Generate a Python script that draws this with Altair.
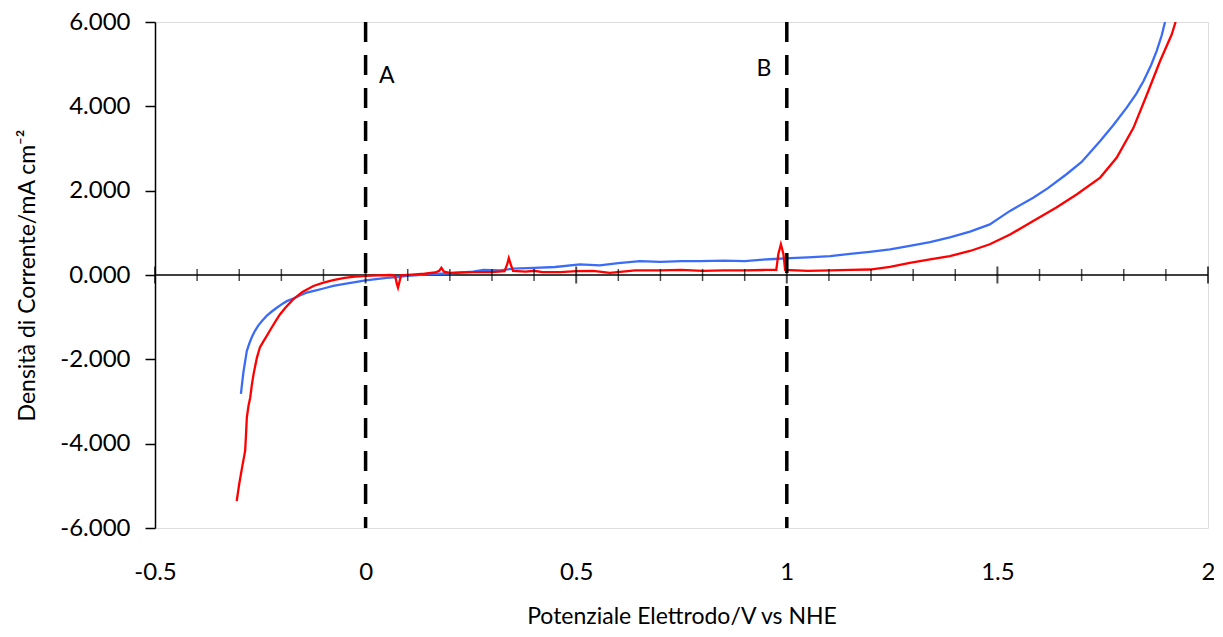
import altair as alt
import pandas as pd

# Blue curve (potential V vs NHE, current density mA cm-2)
blue_x = [-0.296, -0.293, -0.290, -0.286, -0.282, -0.276, -0.270, -0.263, -0.255, -0.245,
          -0.235, -0.222, -0.210, -0.197, -0.187, -0.170, -0.155, -0.140, -0.120, -0.100,
          -0.077, -0.050, -0.025, 0.000, 0.025, 0.050, 0.075, 0.098, 0.125, 0.150,
          0.175, 0.200, 0.230, 0.255, 0.280, 0.319, 0.350, 0.400, 0.450, 0.509,
          0.556, 0.600, 0.651, 0.700, 0.750, 0.794, 0.850, 0.900, 0.936, 0.970,
          1.008, 1.050, 1.103, 1.150, 1.197, 1.245, 1.292, 1.340, 1.387, 1.435,
          1.482, 1.506, 1.530, 1.585, 1.620, 1.664, 1.700, 1.744, 1.775, 1.807, 1.830,
          1.847, 1.865, 1.878, 1.890, 1.898]
blue_y = [-2.82, -2.55, -2.30, -2.05, -1.80, -1.62, -1.47, -1.33, -1.20, -1.08,
          -0.97, -0.86, -0.77, -0.68, -0.62, -0.55, -0.48, -0.42, -0.37, -0.32,
          -0.26, -0.21, -0.17, -0.13, -0.10, -0.07, -0.05, -0.02, 0.00, 0.02,
          0.03, 0.04, 0.06, 0.08, 0.12, 0.11, 0.15, 0.17, 0.19, 0.25,
          0.23, 0.28, 0.33, 0.31, 0.33, 0.33, 0.34, 0.33, 0.36, 0.38,
          0.40, 0.42, 0.45, 0.50, 0.55, 0.61, 0.69, 0.78, 0.89, 1.03,
          1.20, 1.36, 1.52, 1.83, 2.06, 2.39, 2.68, 3.18, 3.55, 3.97, 4.30,
          4.60, 4.98, 5.31, 5.68, 6.00]

# Red curve
red_x = [-0.306, -0.300, -0.293, -0.286, -0.284, -0.282, -0.278, -0.274, -0.270, -0.266,
         -0.262, -0.258, -0.254, -0.251, -0.243, -0.235, -0.225, -0.214, -0.203, -0.190,
         -0.172, -0.150, -0.124, -0.100, -0.077, -0.050, -0.025, 0.000, 0.030, 0.060,
         0.070, 0.074, 0.077, 0.080, 0.084, 0.110, 0.140, 0.165, 0.175, 0.180,
         0.186, 0.200, 0.230, 0.260, 0.300, 0.330, 0.336, 0.340, 0.345, 0.350,
         0.380, 0.400, 0.420, 0.462, 0.500, 0.540, 0.580, 0.610, 0.640, 0.700,
         0.750, 0.800, 0.850, 0.900, 0.950, 0.975, 0.980, 0.986, 0.992, 0.996,
         1.050, 1.103, 1.150, 1.197, 1.245, 1.292, 1.340, 1.387, 1.435, 1.482,
         1.530, 1.585, 1.640, 1.688, 1.744, 1.783, 1.823, 1.855, 1.886, 1.914, 1.923]
red_y = [-5.36, -4.95, -4.55, -4.17, -3.80, -3.38, -3.10, -2.91, -2.60, -2.35,
         -2.15, -1.96, -1.82, -1.72, -1.58, -1.45, -1.28, -1.10, -0.93, -0.77,
         -0.58, -0.40, -0.26, -0.18, -0.12, -0.07, -0.04, -0.02, -0.01, 0.00,
         -0.02, -0.20, -0.30, -0.18, -0.01, 0.01, 0.03, 0.06, 0.10, 0.17,
         0.08, 0.05, 0.06, 0.07, 0.07, 0.09, 0.25, 0.40, 0.24, 0.10,
         0.08, 0.10, 0.07, 0.07, 0.09, 0.10, 0.05, 0.08, 0.11, 0.11,
         0.12, 0.10, 0.11, 0.11, 0.12, 0.12, 0.50, 0.73, 0.50, 0.12,
         0.10, 0.11, 0.12, 0.13, 0.19, 0.29, 0.37, 0.45, 0.57, 0.73,
         0.96, 1.28, 1.60, 1.91, 2.31, 2.78, 3.49, 4.28, 5.07, 5.71, 6.00]

x_ticks_minor = [-0.4, -0.3, -0.2, -0.1, 0.1, 0.2, 0.3, 0.4, 0.6, 0.7, 0.8, 0.9,
                 1.1, 1.2, 1.3, 1.4, 1.6, 1.7, 1.8, 1.9]
x_ticks_major = [-0.5, 0.0, 0.5, 1.0, 1.5, 2.0]
y_ticks = [-6, -4, -2, 0, 2, 4, 6]
marker_x = [0.0, 1.0]
label_text = ["A", "B"]
label_x = [0.05, 0.946]
label_y = [4.72, 4.88]

FONT = "Lato"

rows = []
for i, (x, y) in enumerate(zip(blue_x, blue_y)):
    rows.append({"series": "blue", "x": x, "y": y, "i": i})
for i, (x, y) in enumerate(zip(red_x, red_y)):
    rows.append({"series": "red", "x": x, "y": y, "i": i})
df = pd.DataFrame(rows)

xscale = alt.Scale(domain=[-0.5, 2.0], nice=False, zero=False)
yscale = alt.Scale(domain=[-6, 6], nice=False, zero=False)

lines = alt.Chart(df).mark_line(strokeWidth=2.3, clip=True).encode(
    x=alt.X("x:Q", scale=xscale,
            axis=alt.Axis(values=x_ticks_major, domain=False, ticks=False, grid=False,
                          labelExpr="replace(replace(format(datum.value, '~g'), '\u2212', '-'), '−', '-')",
                          labelFont=FONT, labelFontSize=24, labelColor="black",
                          labelPadding=32, labelFlush=False,
                          title="Potenziale Elettrodo/V vs NHE", titleFont=FONT,
                          titleFontSize=23, titleFontWeight="normal", titleColor="black",
                          titlePadding=21)),
    y=alt.Y("y:Q", scale=yscale,
            axis=alt.Axis(values=y_ticks, domain=True, domainColor="black", domainWidth=1.5,
                          ticks=True, tickColor="black", tickSize=10, tickWidth=1.5,
                          grid=False,
                          labelExpr="replace(replace(format(datum.value, '.3f'), '\u2212', '-'), '−', '-')",
                          labelFont=FONT, labelFontSize=24, labelColor="black",
                          labelPadding=15,
                          title="Densità di Corrente/mA cm⁻²", titleFont=FONT,
                          titleFontSize=23, titleFontWeight="normal", titleColor="black",
                          titlePadding=20)),
    color=alt.Color("series:N", scale=alt.Scale(domain=["blue", "red"],
                                                range=["#3b6cf7", "#ff0000"]), legend=None),
    order="i:Q",
)

zero_rule = alt.Chart(pd.DataFrame({"z": [0]})).mark_rule(color="black", strokeWidth=1.5).encode(
    y=alt.Y("z:Q", scale=yscale)
)

minor = alt.Chart(pd.DataFrame({"t": x_ticks_minor, "z": [0] * len(x_ticks_minor)})).mark_tick(
    orient="vertical", size=12, thickness=1.5, color="black").encode(
    x=alt.X("t:Q", scale=xscale), y=alt.Y("z:Q", scale=yscale))

major = alt.Chart(pd.DataFrame({"t": x_ticks_major, "z": [0] * len(x_ticks_major)})).mark_tick(
    orient="vertical", size=17, thickness=2, color="black").encode(
    x=alt.X("t:Q", scale=xscale), y=alt.Y("z:Q", scale=yscale))

dashed = alt.Chart(pd.DataFrame({"v": marker_x})).mark_rule(
    color="black", strokeWidth=3.5, strokeDash=[20, 13]).encode(
    x=alt.X("v:Q", scale=xscale))

labels = alt.Chart(pd.DataFrame({"t": label_text, "x": label_x, "y": label_y})).mark_text(
    font=FONT, fontSize=23, color="black", align="center", baseline="middle").encode(
    x=alt.X("x:Q", scale=xscale), y=alt.Y("y:Q", scale=yscale), text="t:N")

chart = alt.layer(zero_rule, lines, minor, major, dashed, labels).properties(
    width=1053, height=506,
    autosize=alt.AutoSizeParams(type="none"),
    padding={"left": 147, "top": 14, "right": 6, "bottom": 101},
).configure_view(stroke="#8c8c8c", strokeWidth=1.2).configure(background="white")

chart.save("out.html", embed_options={"renderer": "svg", "actions": False})
